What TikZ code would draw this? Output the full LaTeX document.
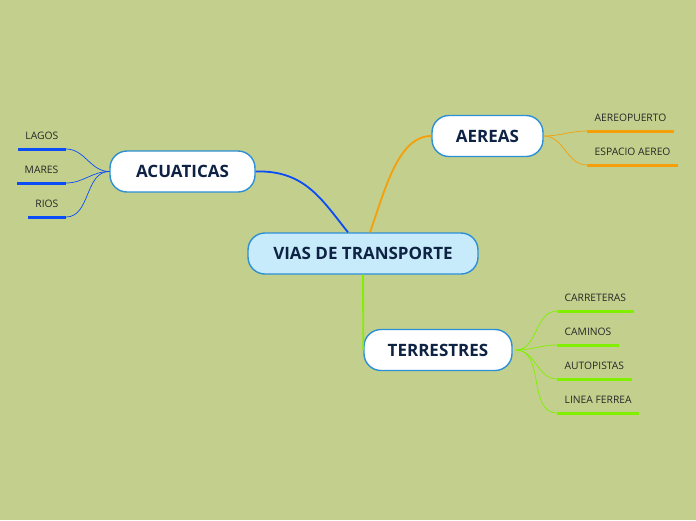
\documentclass[tikz,border=0pt]{standalone}
\usepackage{xcolor}
\usepackage{tikz}
\usepackage{fontspec}
\setmainfont{Open Sans}
\usetikzlibrary{
  arrows.meta,
  positioning,
  calc
}
\definecolor{vtBack}{HTML}{C3D08D}
\definecolor{vtCentre}{HTML}{C8EBFB}
\definecolor{vtBorder}{HTML}{2D8FD5}
\definecolor{vtText}{HTML}{0E2244}
\definecolor{vtWater}{HTML}{0A4CF5}
\definecolor{vtAir}{HTML}{F59F0A}
\definecolor{vtLand}{HTML}{80F000}
\tikzset{
  topic/.style={
    draw=vtBorder, line width=1.4pt, rounded corners=17pt, fill=white,
    minimum height=41pt, align=center, text=vtText,
    font=\fontsize{17}{20}\selectfont\bfseries
  },
  centre/.style={topic, fill=vtCentre},
  leaf/.style={
    inner xsep=7.5pt, inner ysep=9pt, text height=7.5pt, text depth=0pt,
    font=\fontsize{10.3}{12}\selectfont, text=black!85,
    append after command={(\tikzlastnode.south west) edge[line width=3pt, #1] (\tikzlastnode.south east)}
  },
  branch/.style={line width=1.8pt, #1},
  twig/.style={line width=0.7pt, #1}
}
\begin{document}
\begin{tikzpicture}[x=1pt, y=-1pt]
  \fill[vtBack] (0,0) rectangle (696,520);
  \useasboundingbox (0,0) rectangle (696,520);

  % main topics
  \node[centre, minimum width=230pt] (vias) at (363,253.5) {VIAS DE TRANSPORTE};
  \node[topic, minimum width=145pt] (acuaticas) at (182.5,171.5) {ACUATICAS};
  \node[topic, minimum width=111pt] (aereas) at (487.5,136) {AEREAS};
  \node[topic, minimum width=148pt] (terrestres) at (438,350) {TERRESTRES};

  % subtopics
  \node[leaf=vtWater, anchor=south east] (lagos) at (66,149) {LAGOS};
  \node[leaf=vtWater, anchor=south east] (mares) at (66,183) {MARES};
  \node[leaf=vtWater, anchor=south east] (rios) at (66,217) {RIOS};
  \node[leaf=vtAir, anchor=south west] (aeropuerto) at (587,131) {AEREOPUERTO};
  \node[leaf=vtAir, anchor=south west] (espacio) at (587,165) {ESPACIO AEREO};
  \node[leaf=vtLand, anchor=south west] (carreteras) at (557,311) {CARRETERAS};
  \node[leaf=vtLand, anchor=south west] (caminos) at (557,345) {CAMINOS};
  \node[leaf=vtLand, anchor=south west] (autopistas) at (557,379) {AUTOPISTAS};
  \node[leaf=vtLand, anchor=south west] (ferrea) at (557,413) {LINEA FERREA};

  % branches
  \draw[branch=vtWater] (acuaticas.east) .. controls (305,170) and (322,200) .. ($(vias.north)+(-15,0)$);
  \draw[branch=vtAir] ($(vias.north)+(7,0)$) .. controls (385,190) and (398,136) .. (aereas.west);
  \draw[branch=vtLand] (vias.south) -- (terrestres.west);

  \foreach \leafname in {lagos, mares, rios}
    \draw[twig=vtWater] (acuaticas.west) to[out=180, in=0] (\leafname.south east);
  \foreach \leafname in {aeropuerto, espacio}
    \draw[twig=vtAir] (aereas.east) to[out=0, in=180] (\leafname.south west);
  \foreach \leafname in {carreteras, caminos, autopistas, ferrea}
    \draw[twig=vtLand] ($(terrestres.east)+(3,0)$) to[out=0, in=180] (\leafname.south west);
\end{tikzpicture}
\end{document}
